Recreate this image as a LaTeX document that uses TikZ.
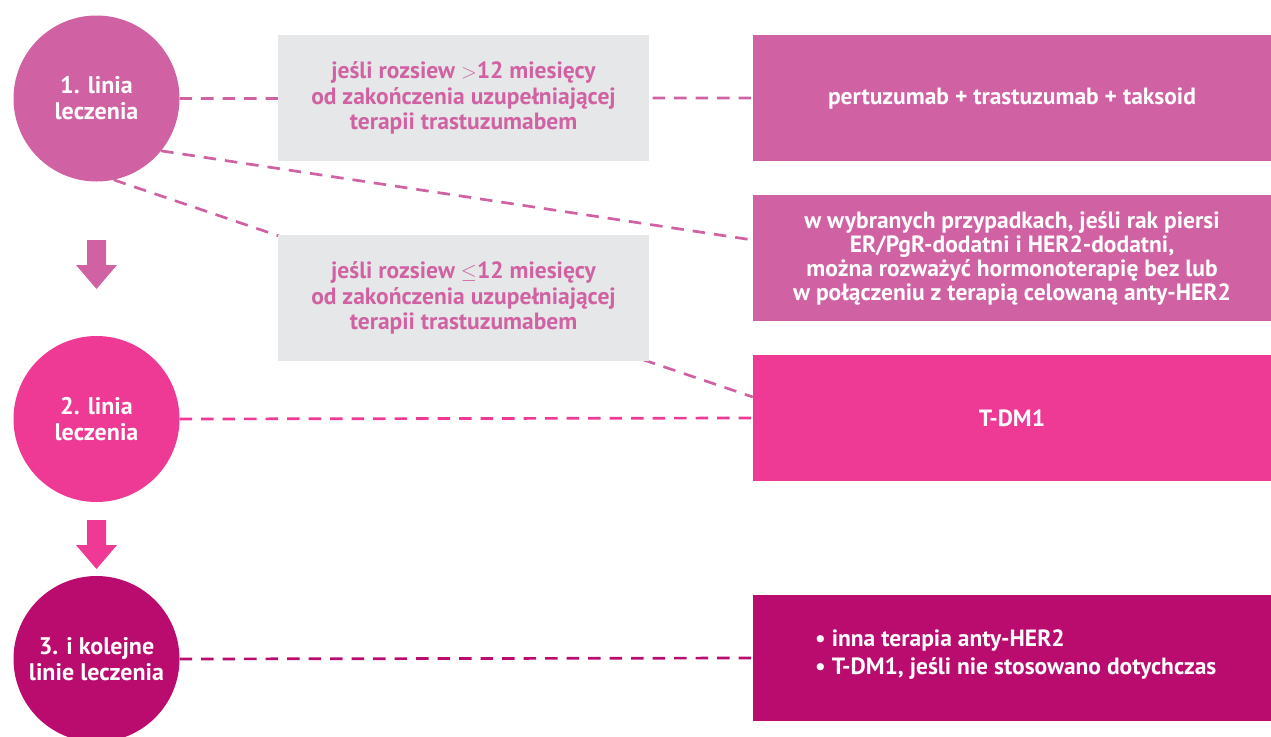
\documentclass[tikz,border=0pt]{standalone}
\usepackage{fontspec}
\setmainfont{PT Sans}
\usetikzlibrary{backgrounds}
\definecolor{cA}{RGB}{208,98,163}
\definecolor{cB}{RGB}{238,58,148}
\definecolor{cC}{RGB}{185,12,110}
\definecolor{gr}{RGB}{230,231,232}
\newcommand{\smallrel}[1]{{\fontsize{20}{20}\selectfont$#1$}}
\tikzset{
 lvl/.style={circle, minimum size=166pt, inner sep=0pt, text=white, font=\fontsize{24}{26}\selectfont\bfseries, align=center},
 cond/.style={fill=gr, minimum width=371pt, minimum height=126pt, inner sep=0pt, text=cA, font=\fontsize{23.5}{25.5}\selectfont\bfseries, align=center},
 res/.style={minimum width=518pt, minimum height=126pt, inner sep=0pt, text=white, font=\fontsize{23.5}{24}\selectfont\bfseries, align=center},
 link/.style={line width=2.7pt, dash pattern=on 12.5pt off 9pt},
}
\begin{document}
\begin{tikzpicture}[x=1pt,y=-1pt]
\useasboundingbox (0,0) rectangle (1271,736);
\clip (0,0) rectangle (1271,736);
% level circles
\node[lvl, fill=cA] (c1) at (96.5,98.5) {1. linia\\leczenia};
\node[lvl, fill=cB] (c2) at (96.5,419) {2. linia\\leczenia};
\node[lvl, fill=cC] (c3) at (96.5,659) {3. i kolejne\\linie leczenia};
% condition boxes
\node[cond] (g1) at (463.5,98) {jeśli rozsiew \smallrel{>}12 miesięcy\\od zakończenia uzupełniającej\\terapii trastuzumabem};
\node[cond] (g2) at (463.5,298) {jeśli rozsiew \smallrel{\leq}12 miesięcy\\od zakończenia uzupełniającej\\terapii trastuzumabem};
% result boxes
\node[res, fill=cA] (p1) at (1012,98) {pertuzumab + trastuzumab + taksoid};
\node[res, fill=cA] (p2) at (1012,258) {w wybranych przypadkach, jeśli rak piersi\\ER/PgR-dodatni i HER2-dodatni,\\można rozważyć hormonoterapię bez lub\\w połączeniu z terapią celowaną anty-HER2};
\node[res, fill=cB] (t1) at (1012,418) {T-DM1};
\node[res, fill=cC] (p3) at (1012,658) {};
\node[anchor=west, inner sep=0pt, text=white, align=left, font=\fontsize{23.5}{28}\selectfont\bfseries] (l3) at (815,655) {• inna terapia anty-HER2\\• T-DM1, jeśli nie stosowano dotychczas};
% connectors
\begin{scope}[on background layer]
\draw[link, cA] (c1.east) -- (p1.west);
\draw[link, cA] (c1.-39) -- ([yshift=18pt]p2.west);
\draw[link, cA] (c1.-78) -- ([yshift=21pt]t1.west);
\draw[link, cB] (c2.east) -- (t1.west);
\draw[link, cC] (c3.east) -- (p3.west);
\end{scope}
% down arrows
\fill[cA] (87,240) -- (106,240) -- (106,265) -- (117,265) -- (96.5,289) -- (76,265) -- (87,265) -- cycle;
\fill[cB] (87,520) -- (106,520) -- (106,545) -- (117,545) -- (96.5,569) -- (76,545) -- (87,545) -- cycle;
\end{tikzpicture}
\end{document}
